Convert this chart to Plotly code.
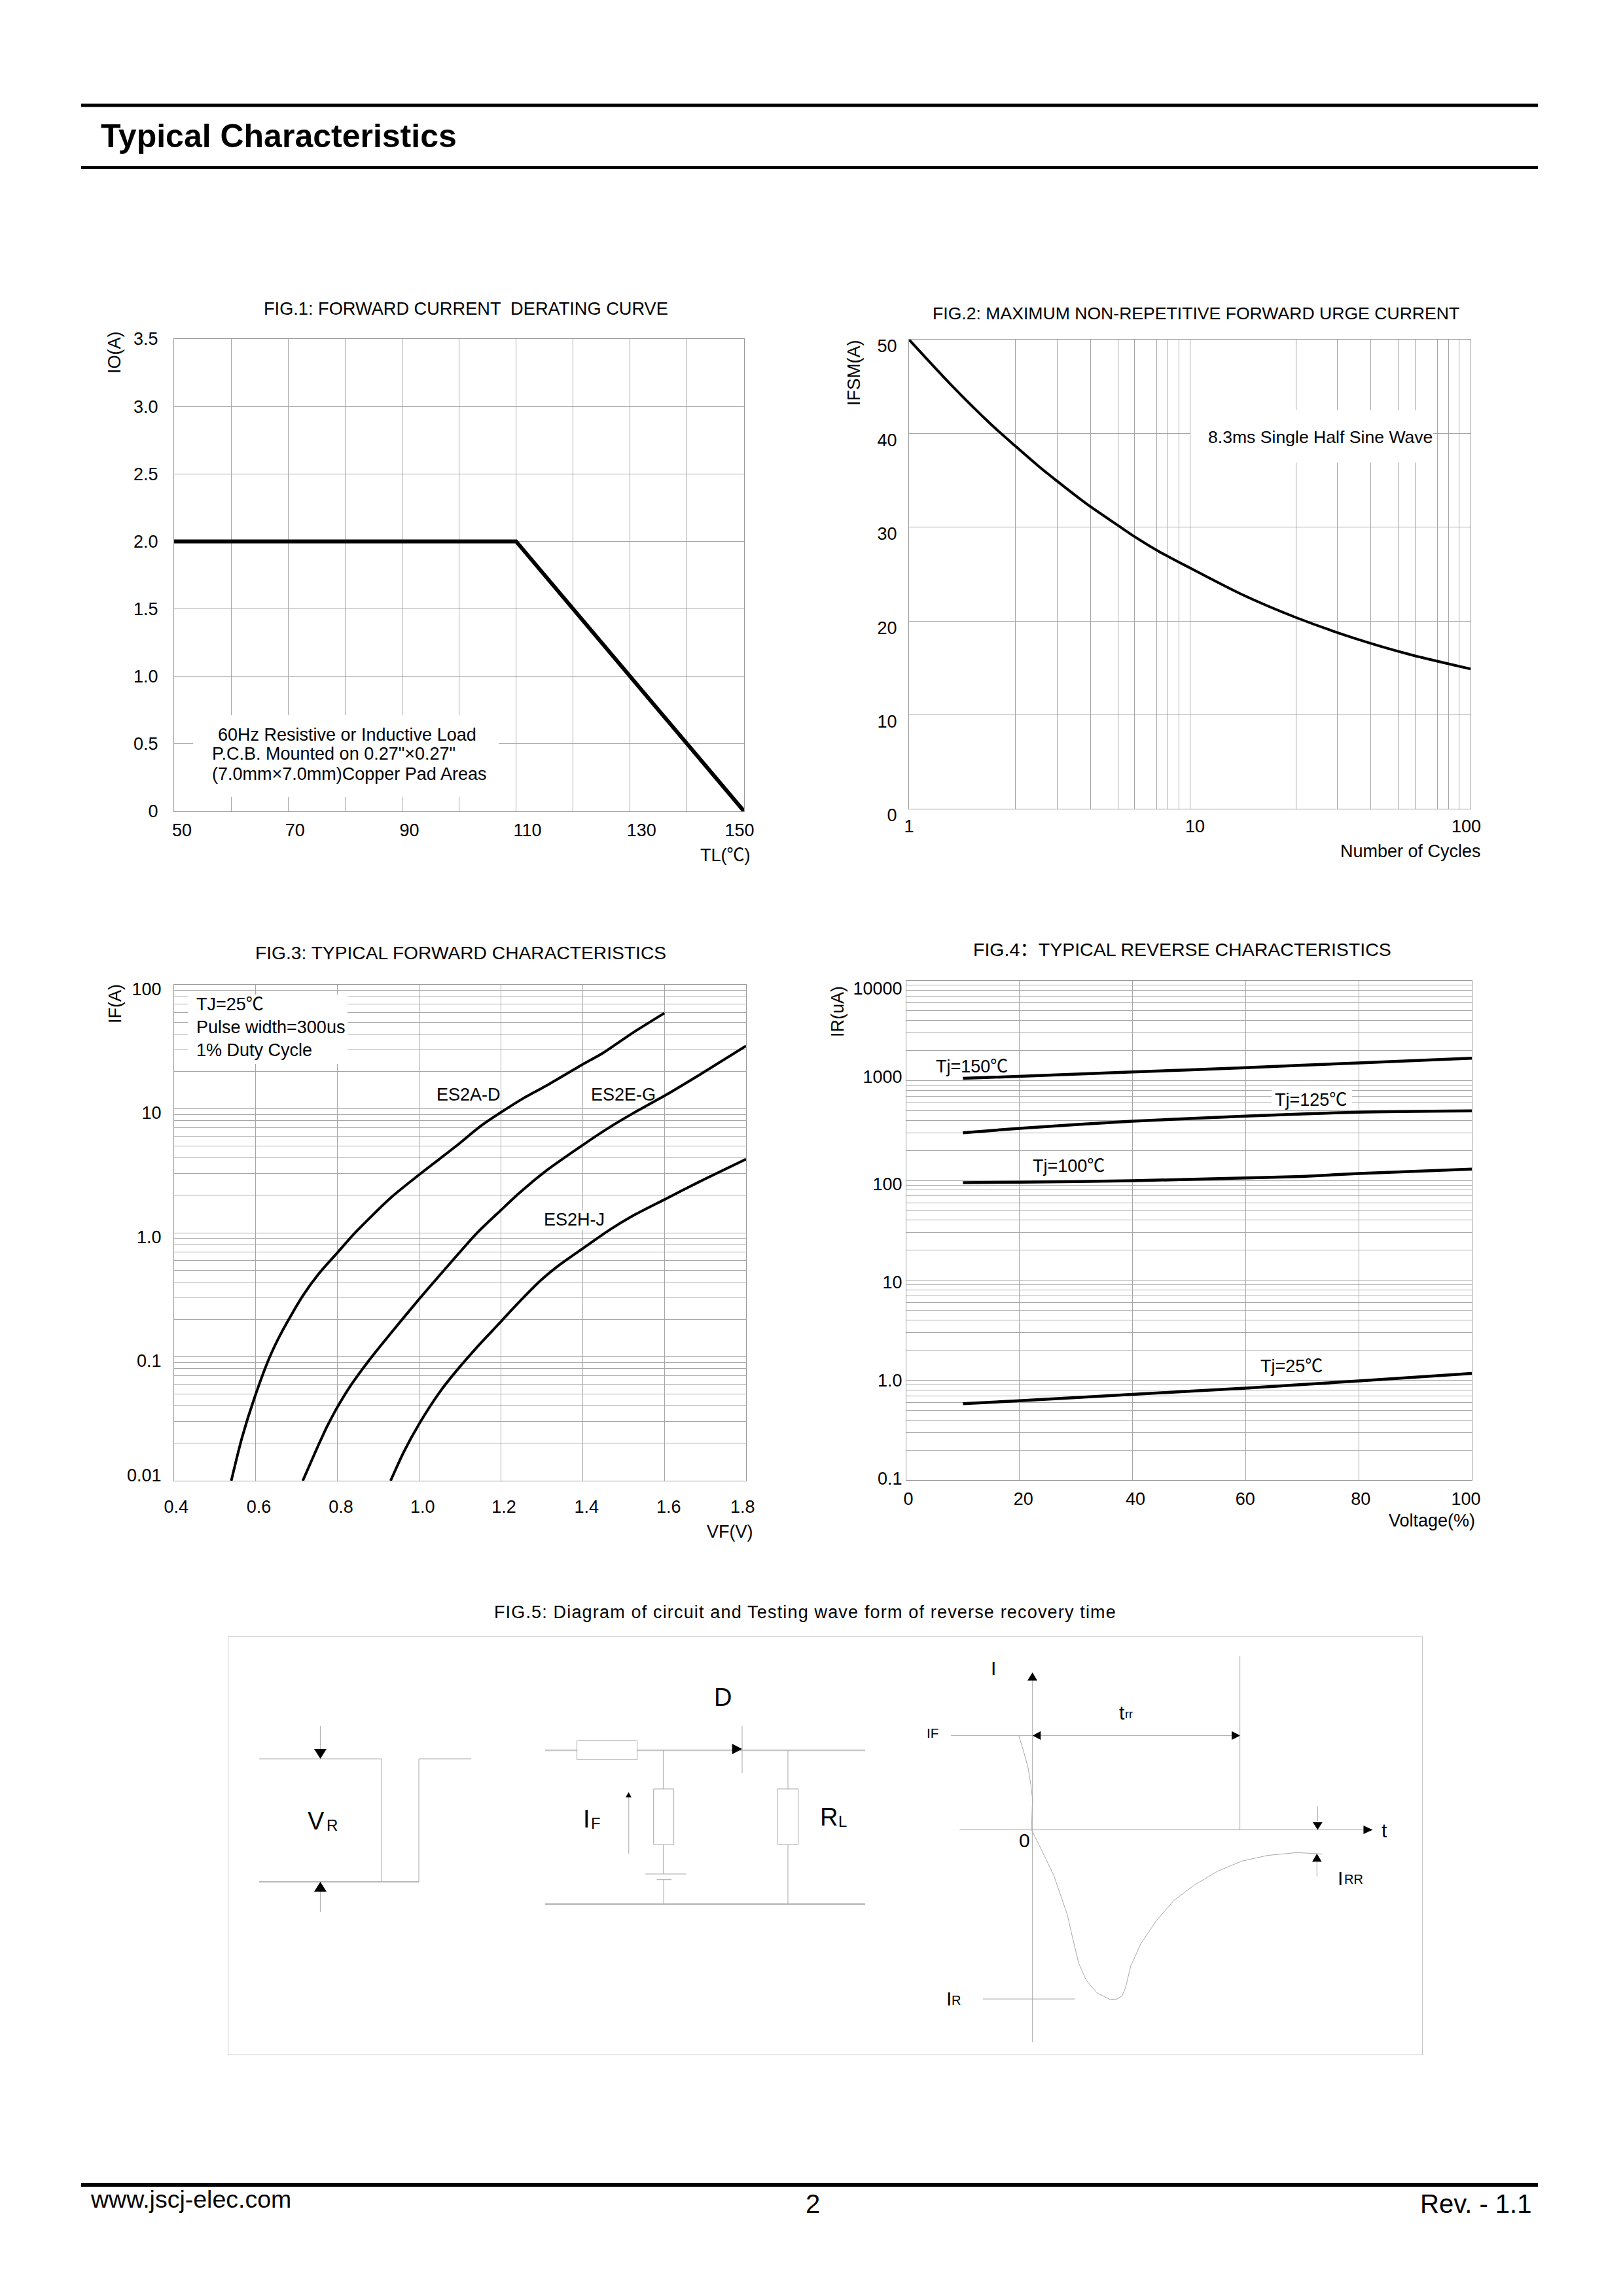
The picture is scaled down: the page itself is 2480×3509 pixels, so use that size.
import math
import plotly.graph_objects as go

W, H = 2480, 3509
FONT = "Liberation Sans, Arial, Noto Sans CJK SC, sans-serif"
GRID = "#a6a6a6"
FRAME = "#999999"
SKETCH = "#a8a8a8"

# ---------------- data ----------------
fig1_temp = [50, 110, 150]
fig1_io = [2.0, 2.0, 0.0]

fig2_cycles = [1, 1.41, 1.97, 2.39, 2.87, 3.36, 4.31, 5.56, 6.37, 7.63, 9.7, 15.2, 23.9, 38.7, 60.8, 100]
fig2_ifsm = [50, 45.2, 40.9, 38.66, 36.6, 34.95, 32.45, 30.18, 28.98, 27.55, 25.88, 22.89, 20.38, 18.16, 16.44, 14.9]

es2ad_vf = [.540, .566, .596, .634, .663, .714, .754, .8, .844, .93, 1.0, 1.095, 1.149, 1.2, 1.256, 1.309, 1.4, 1.448, 1.523, 1.6]
es2ad_if = [.01, .0221, .0458, .0993, .157, .306, .466, .692, 1.007, 1.91, 2.94, 5.14, 7.19, 9.35, 12.2, 15.2, 22.8, 27.9, 41, 59]
es2eg_vf = [.715, .748, .775, .8, .834, .876, .93, 1.0, 1.063, 1.143, 1.2, 1.245, 1.309, 1.4, 1.469, 1.523, 1.6, 1.684, 1.8]
es2eg_if = [.01, .0177, .0276, .0393, .0597, .0925, .154, .292, .508, 1.007, 1.52, 2.09, 3.13, 5.09, 7.19, 9.17, 12.7, 18.6, 32.1]
es2hj_vf = [.93, .962, 1.0, 1.053, 1.09, 1.143, 1.2, 1.229, 1.298, 1.347, 1.4, 1.469, 1.523, 1.6, 1.684, 1.8]
es2hj_if = [.01, .017, .0288, .0534, .0762, .121, .192, .244, .414, .562, .745, 1.07, 1.37, 1.85, 2.56, 3.92]

tj150_v = [10, 40, 60, 80, 100]
tj150_ir = [1054, 1221, 1349, 1507, 1681]
tj125_v = [10, 20, 40, 60, 80, 100]
tj125_ir = [301, 333, 393, 442, 484, 498]
tj100_v = [10, 20, 40, 60, 70, 80, 100]
tj100_ir = [95.2, 96.2, 99.6, 106, 110, 117.5, 130]
tj25_v = [10, 20, 40, 60, 80, 100]
tj25_ir = [.583, .622, .721, .834, .984, 1.17]

fig1_xticks = [50, 70, 90, 110, 130, 150]
fig1_xtext = ["50", "70", "90", "110", "130", "150"]
fig1_xshift = [12, 10.5, 11, 17.5, 17.5, -7]
fig1_yticks = [0, .5, 1, 1.5, 2, 2.5, 3, 3.5]
fig1_ytext = ["0", "0.5", "1.0", "1.5", "2.0", "2.5", "3.0", "3.5"]
fig1_xgrid = [60, 70, 80, 90, 100, 110, 120, 130, 140]

fig2_xticks = [1, 10, 100]
fig2_xtext = ["1", "10", "100"]
fig2_xshift = [0, 8, -6.5]
fig2_yticks = [0, 10, 20, 30, 40, 50]
fig2_ytext = ["0", "10", "20", "30", "40", "50"]
fig2_xgrid = [2.39, 3.37, 4.43, 5.56, 6.37, 7.62, 8.36, 9.14, 10,
              23.9, 33.5, 44.1, 55.2, 63.5, 76.2, 83.5, 91.2]

fig3_xticks = [.4, .6, .8, 1.0, 1.2, 1.4, 1.6, 1.8]
fig3_xtext = ["0.4", "0.6", "0.8", "1.0", "1.2", "1.4", "1.6", "1.8"]
fig3_xshift = [3.3, 4.6, 5.3, 5.3, 4.6, 6, 6.6, -5.3]
fig3_yticks = [.01, .1, 1, 10, 100]
fig3_ytext = ["0.01", "0.1", "1.0", "10", "100"]
fig3_yshift = [-8, 6, 6.5, 6, 7]
fig3_xgrid = [.6, .8, 1.0, 1.2, 1.4, 1.6]
fig3_decades = [.01, .1, 1, 10]

fig4_xticks = [0, 20, 40, 60, 80, 100]
fig4_xtext = ["0", "20", "40", "60", "80", "100"]
fig4_xshift = [3, 6, 4.5, -.6, 3, -9]
fig4_yticks = [.1, 1, 10, 100, 1000, 10000]
fig4_ytext = ["0.1", "1.0", "10", "100", "1000", "10000"]
fig4_yshift = [-2.4, 0, 3, 5, -6, 12]
fig4_xgrid = [20, 40, 60, 80]
fig4_decades = [.1, 1, 10, 100, 1000]

log_steps = [1, 2, 3, 4, 5, 6, 7, 8, 9]

# reverse-recovery waveform read in drawing units (t to the right, i upward, origin at 0)
rise_t = [-40, -28, -13, -5, 0, -1, -3]
rise_i = [332, 285, 220, 160, 110, 50, 0]
recovery_t = [-3, 22, 62, 102, 117, 135, 157, 189, 227, 247, 262, 272, 287, 317, 362, 412, 472, 542, 612, 687, 772, 847]
recovery_i = [0, -60, -160, -300, -380, -470, -530, -575, -598, -596, -585, -555, -480, -400, -320, -250, -195, -145, -110, -90, -80, -85]

# ---------------- panel geometry ----------------
PANELS = {1: (266, 1137, 518, 1240), 2: (1389, 2247, 519, 1236),
          3: (266, 1140, 1505, 2263), 4: (1385, 2249, 1499, 2262)}
XR = {1: (50, 150, False), 2: (0, 2, True), 3: (.4, 1.8, False), 4: (0, 100, False)}
YR = {1: (0, 3.5, False), 2: (0, 50, False), 3: (-2, 2, True), 4: (-1, 4, True)}


def xval(n, px):
    l, r, _, _ = PANELS[n]
    a, c, lg = XR[n]
    v = a + (px - l) / (r - l) * (c - a)
    return 10 ** v if lg else v


def yval(n, py):
    _, _, t, b = PANELS[n]
    a, c, lg = YR[n]
    v = a + (b - py) / (b - t) * (c - a)
    return 10 ** v if lg else v


def xpx(n, v):
    l, r, _, _ = PANELS[n]
    a, c, lg = XR[n]
    u = math.log10(v) if lg else v
    return l + (u - a) / (c - a) * (r - l)


def ypx(n, v):
    _, _, t, b = PANELS[n]
    a, c, lg = YR[n]
    u = math.log10(v) if lg else v
    return b - (u - a) / (c - a) * (b - t)


fig = go.Figure()


def axis_x(n, ticks, text, shifts, grid, standoff):
    l, r, _, _ = PANELS[n]
    a, c, lg = XR[n]
    return dict(
        domain=[l / W, r / W], range=[a, c], type="log" if lg else "linear",
        anchor="y%d" % n if n > 1 else "y",
        tickmode="array", tickvals=[xval(n, xpx(n, v) + d) for v, d in zip(ticks, shifts)], ticktext=text,
        showgrid=False, zeroline=False, showline=True, mirror=True, linecolor=FRAME, linewidth=1,
        ticks="", tickangle=0, ticklabelstandoff=standoff, automargin=False,
        tickfont=dict(size=27, family=FONT, color="#000"),
        minor=dict(tickmode="array", tickvals=grid, showgrid=True, gridcolor=GRID, gridwidth=1, ticks=""),
    )


def axis_y(n, ticks, text, shifts, grid, standoff, labelshift=0):
    _, _, t, b = PANELS[n]
    a, c, lg = YR[n]
    return dict(
        domain=[1 - b / H, 1 - t / H], range=[a, c], type="log" if lg else "linear",
        anchor="x%d" % n if n > 1 else "x",
        tickmode="array", tickvals=[yval(n, ypx(n, v) + d) for v, d in zip(ticks, shifts)], ticktext=text,
        showgrid=False, zeroline=False, showline=True, mirror=True, linecolor=FRAME, linewidth=1,
        ticks="", ticklabelstandoff=standoff, ticklabelshift=labelshift, automargin=False,
        tickfont=dict(size=27, family=FONT, color="#000"),
        minor=dict(tickmode="array", tickvals=grid, showgrid=True, gridcolor=GRID, gridwidth=1, ticks=""),
    )


def curve(n, xs, ys, width, shape="spline"):
    suffix = "" if n == 1 else str(n)
    fig.add_trace(go.Scatter(x=xs, y=ys, xaxis="x" + suffix, yaxis="y" + suffix, mode="lines",
                             line=dict(color="#000", width=width, shape=shape, **({"smoothing": .7} if shape == "spline" else {})),
                             cliponaxis=False, showlegend=False, hoverinfo="skip"))


def patch(n, x0, x1, y0, y1):
    suffix = "" if n == 1 else str(n)
    fig.add_shape(type="rect", xref="x" + suffix, yref="y" + suffix, layer="between",
                  x0=xval(n, x0), x1=xval(n, x1), y0=yval(n, y0), y1=yval(n, y1),
                  fillcolor="#fff", line=dict(width=0))


def text(px, py, s, size=27, anchor="center", angle=0):
    fig.add_annotation(xref="paper", yref="paper", x=px / W, y=1 - py / H, text=s, showarrow=False,
                       xanchor=anchor, yanchor="middle", textangle=angle, borderpad=0,
                       font=dict(size=size, family=FONT, color="#000"))


# ---------------- charts ----------------
curve(1, fig1_temp, fig1_io, 6, "linear")
curve(2, fig2_cycles, fig2_ifsm, 4)
curve(3, es2ad_vf, es2ad_if, 4)
curve(3, es2eg_vf, es2eg_if, 4)
curve(3, es2hj_vf, es2hj_if, 4)
curve(4, tj150_v, tj150_ir, 4.5)
curve(4, tj125_v, tj125_ir, 4.5)
curve(4, tj100_v, tj100_ir, 4.5)
curve(4, tj25_v, tj25_ir, 4.5)

patch(1, 295, 762, 1093, 1218)
patch(2, 1819, 2190, 627, 707)
patch(3, 287, 531, 1520, 1626)
patch(3, 826, 930, 1850, 1880)
patch(4, 1943, 2066, 1665, 1693)

# ---------------- waveform / circuit schematic axes ----------------
BOX = (348, 2174, 2501, 3141)
WAVE = (1380, 2170, 2510, 3135)
ORIGIN = (1577.7, 2796.6)
SX, SY = .523, .4337


def plain(**kw):
    return dict(visible=False, showgrid=False, zeroline=False, fixedrange=True, **kw)


layout_axes = dict(
    xaxis=axis_x(1, fig1_xticks, fig1_xtext, fig1_xshift, fig1_xgrid, 5),
    yaxis=axis_y(1, fig1_yticks, fig1_ytext, [0] * 8, fig1_yticks, 18),
    xaxis2=axis_x(2, fig2_xticks, fig2_xtext, fig2_xshift, fig2_xgrid, 3),
    yaxis2=axis_y(2, fig2_yticks, fig2_ytext, [0] * 6, fig2_yticks, 12, labelshift=10),
    xaxis3=axis_x(3, fig3_xticks, fig3_xtext, fig3_xshift, fig3_xgrid, 16),
    yaxis3=axis_y(3, fig3_yticks, fig3_ytext, fig3_yshift, [m * d for d in fig3_decades for m in log_steps], 13),
    xaxis4=axis_x(4, fig4_xticks, fig4_xtext, fig4_xshift, fig4_xgrid, 5),
    yaxis4=axis_y(4, fig4_yticks, fig4_ytext, fig4_yshift, [m * d for d in fig4_decades for m in log_steps], 0),
    xaxis5=plain(domain=[BOX[0] / W, BOX[1] / W], range=[BOX[0], BOX[1]], anchor="y5"),
    yaxis5=plain(domain=[1 - BOX[3] / H, 1 - BOX[2] / H], range=[BOX[3], BOX[2]], anchor="x5"),
    xaxis6=plain(domain=[WAVE[0] / W, WAVE[1] / W],
                 range=[(WAVE[0] - ORIGIN[0]) / SX, (WAVE[1] - ORIGIN[0]) / SX], anchor="y6"),
    yaxis6=plain(domain=[1 - WAVE[3] / H, 1 - WAVE[2] / H],
                 range=[(ORIGIN[1] - WAVE[3]) / SY, (ORIGIN[1] - WAVE[2]) / SY], anchor="x6"),
)


def seg(ax, xs, ys, width=1, color=SKETCH):
    fig.add_trace(go.Scatter(x=xs, y=ys, xaxis="x" + ax, yaxis="y" + ax, mode="lines",
                             line=dict(color=color, width=width), showlegend=False, hoverinfo="skip", cliponaxis=False))


def solid(ax, xs, ys, fill="#000"):
    fig.add_trace(go.Scatter(x=xs, y=ys, xaxis="x" + ax, yaxis="y" + ax, mode="lines", fill="toself",
                             fillcolor=fill, line=dict(color=fill, width=0 if fill == "#000" else 1),
                             showlegend=False, hoverinfo="skip", cliponaxis=False))


def box(ax, x0, x1, y0, y1, width=1):
    fig.add_trace(go.Scatter(x=[x0, x1, x1, x0, x0], y=[y0, y0, y1, y1, y0], xaxis="x" + ax, yaxis="y" + ax,
                             mode="lines", fill="toself", fillcolor="#fff", line=dict(color=SKETCH, width=width),
                             showlegend=False, hoverinfo="skip", cliponaxis=False))


# outer frame
seg("5", [BOX[0], BOX[1], BOX[1], BOX[0], BOX[0]], [BOX[2], BOX[2], BOX[3], BOX[3], BOX[2]], 1.5, "#b4b4b4")

# reverse-voltage pulse
seg("5", [396, 583, 583], [2688, 2688, 2876])
seg("5", [396, 640], [2876, 2876], 2, "#b8b8b8")
seg("5", [640, 640, 720], [2876, 2688, 2688])
seg("5", [489.4, 489.4], [2638, 2673])
solid("5", [480, 499, 489.5, 480], [2673, 2673, 2688, 2673])
seg("5", [489.4, 489.4], [2891, 2922])
solid("5", [480, 499, 489.5, 480], [2891, 2891, 2876, 2891])

# circuit
seg("5", [833, 1322], [2675, 2675], 2.5, "#c8c8c8")
box("5", 881.6, 973.5, 2660.5, 2689.5)
seg("5", [1013.4, 1013.4], [2675, 2734])
box("5", 998.7, 1029.6, 2734, 2819)
seg("5", [1013.4, 1013.4], [2819, 2864])
seg("5", [986, 1048.5], [2864, 2864])
seg("5", [1003.6, 1026], [2872.7, 2872.7])
seg("5", [1014, 1014], [2873, 2910])
seg("5", [833, 1322], [2910, 2910], 2, "#b0b0b0")
solid("5", [1118.7, 1118.7, 1134, 1118.7], [2665, 2681, 2673, 2665])
seg("5", [1134, 1134], [2638, 2710])
seg("5", [1204, 1204], [2675, 2734])
box("5", 1188, 1219.7, 2734, 2819)
seg("5", [1204, 1204], [2819, 2910])
seg("5", [960.8, 960.8], [2747, 2833])
solid("5", [956, 965, 960.5, 956], [2747, 2747, 2739, 2747])

# waveform
seg("6", [0, 0], [530, -748])
solid("6", [-15, 14, 0, -15], [526, 526, 555, 526])
seg("6", [-213, 967], [0, 0])
solid("6", [967, 967, 994, 967], [15, -15, 0, 15])
seg("6", [-238, 606], [332, 332])
solid("6", [0, 24, 24, 0], [332, 348, 317, 332])
solid("6", [607, 582, 582, 607], [332, 348, 317, 332])
seg("6", [606, 606], [612, 0])
seg("6", [-145, 124], [-596, -596])
seg("6", rise_t, rise_i)
seg("6", recovery_t, recovery_i)
seg("6", [833, 833], [83, 30])
solid("6", [819, 847, 833, 819], [27, 27, 0, 27])
seg("6", [831, 831], [-114, -165])
solid("6", [817, 845, 831, 817], [-112, -112, -84, -112])

# ---------------- texts ----------------
text(153, 208, "<b>Typical Characteristics</b>", 50, "left")
text(712, 471.5, "FIG.1: FORWARD CURRENT  DERATING CURVE", 27.2)
text(1827, 479, "FIG.2: MAXIMUM NON-REPETITIVE FORWARD URGE CURRENT", 26.6)
text(704, 1456, "FIG.3: TYPICAL FORWARD CHARACTERISTICS", 28.2)
text(1806, 1451, "FIG.4：TYPICAL REVERSE CHARACTERISTICS", 28.5)
text(1230, 2464, "FIG.5: Diagram of circuit and Testing wave form of reverse recovery time", 27)

text(175, 539, "IO(A)", angle=-90)
text(1108, 1307, "TL(℃)")
text(1305, 570, "IFSM(A)", angle=-90)
text(2155, 1301, "Number of Cycles")
text(176, 1534, "IF(A)", angle=-90)
text(1115, 2341, "VF(V)")
text(1280, 1546, "IR(uA)", angle=-90)
text(2188, 2324, "Voltage(%)")

text(332, 1123, "60Hz Resistive or Inductive Load", 27, "left")
text(323, 1152, "P.C.B. Mounted on 0.27\"×0.27\"", 27, "left")
text(323, 1183, "(7.0mm×7.0mm)Copper Pad Areas", 27, "left")
text(1845, 668, "8.3ms Single Half Sine Wave", 26.6, "left")
text(299, 1535, "TJ=25℃", 27, "left")
text(299, 1570, "Pulse width=300us", 27, "left")
text(299, 1605, "1% Duty Cycle", 27, "left")
text(716, 1673, "ES2A-D")
text(952, 1673, "ES2E-G")
text(878, 1864, "ES2H-J")
text(1485, 1630, "Tj=150℃")
text(2003, 1681, "Tj=125℃")
text(1633, 1782, "Tj=100℃")
text(1973, 2088, "Tj=25℃")

text(483, 2783, "V", 38)
text(507, 2789, "R", 24)
text(1104.6, 2594, "D", 38)
text(896, 2780, "I", 38)
text(911, 2786, "F", 24)
text(1266, 2777, "R", 38)
text(1287, 2783, "L", 24)
text(1517.5, 2549, "I", 30)
text(2115, 2797, "t", 30)
text(1425, 2648, "IF", 21)
text(1565.7, 2812, "0", 30)
text(1714, 2617, "t", 30)
text(1725, 2620, "rr", 18)
text(1450, 3054, "I", 30)
text(1461, 3057, "R", 20)
text(2048, 2870, "I", 30)
text(2068, 2872, "RR", 20)

text(137, 3361, "www.jscj-elec.com", 37.5, "left")
text(1242, 3368, "2", 40)
text(2341, 3368, "Rev. - 1.1", 40, "right")

# ---------------- page rules ----------------
for y, w in [(161, 5), (256, 4), (3339, 6)]:
    fig.add_shape(type="line", xref="paper", yref="paper", x0=124 / W, x1=2350 / W, y0=1 - y / H, y1=1 - y / H,
                  line=dict(color="#000", width=w), layer="above")

fig.update_layout(width=W, height=H, margin=dict(l=0, r=0, t=0, b=0), paper_bgcolor="#fff", plot_bgcolor="rgba(0,0,0,0)",
                  showlegend=False, **layout_axes)
spacing = (
    "document.body.style.margin='0';"
    "document.querySelectorAll('.annotation-text').forEach(function(t){"
    "if(t.textContent.indexOf('FIG.5')===0){t.style.letterSpacing='1.17px';}});"
)
fig.write_html("out.html", post_script=spacing, config={"displayModeBar": False})
